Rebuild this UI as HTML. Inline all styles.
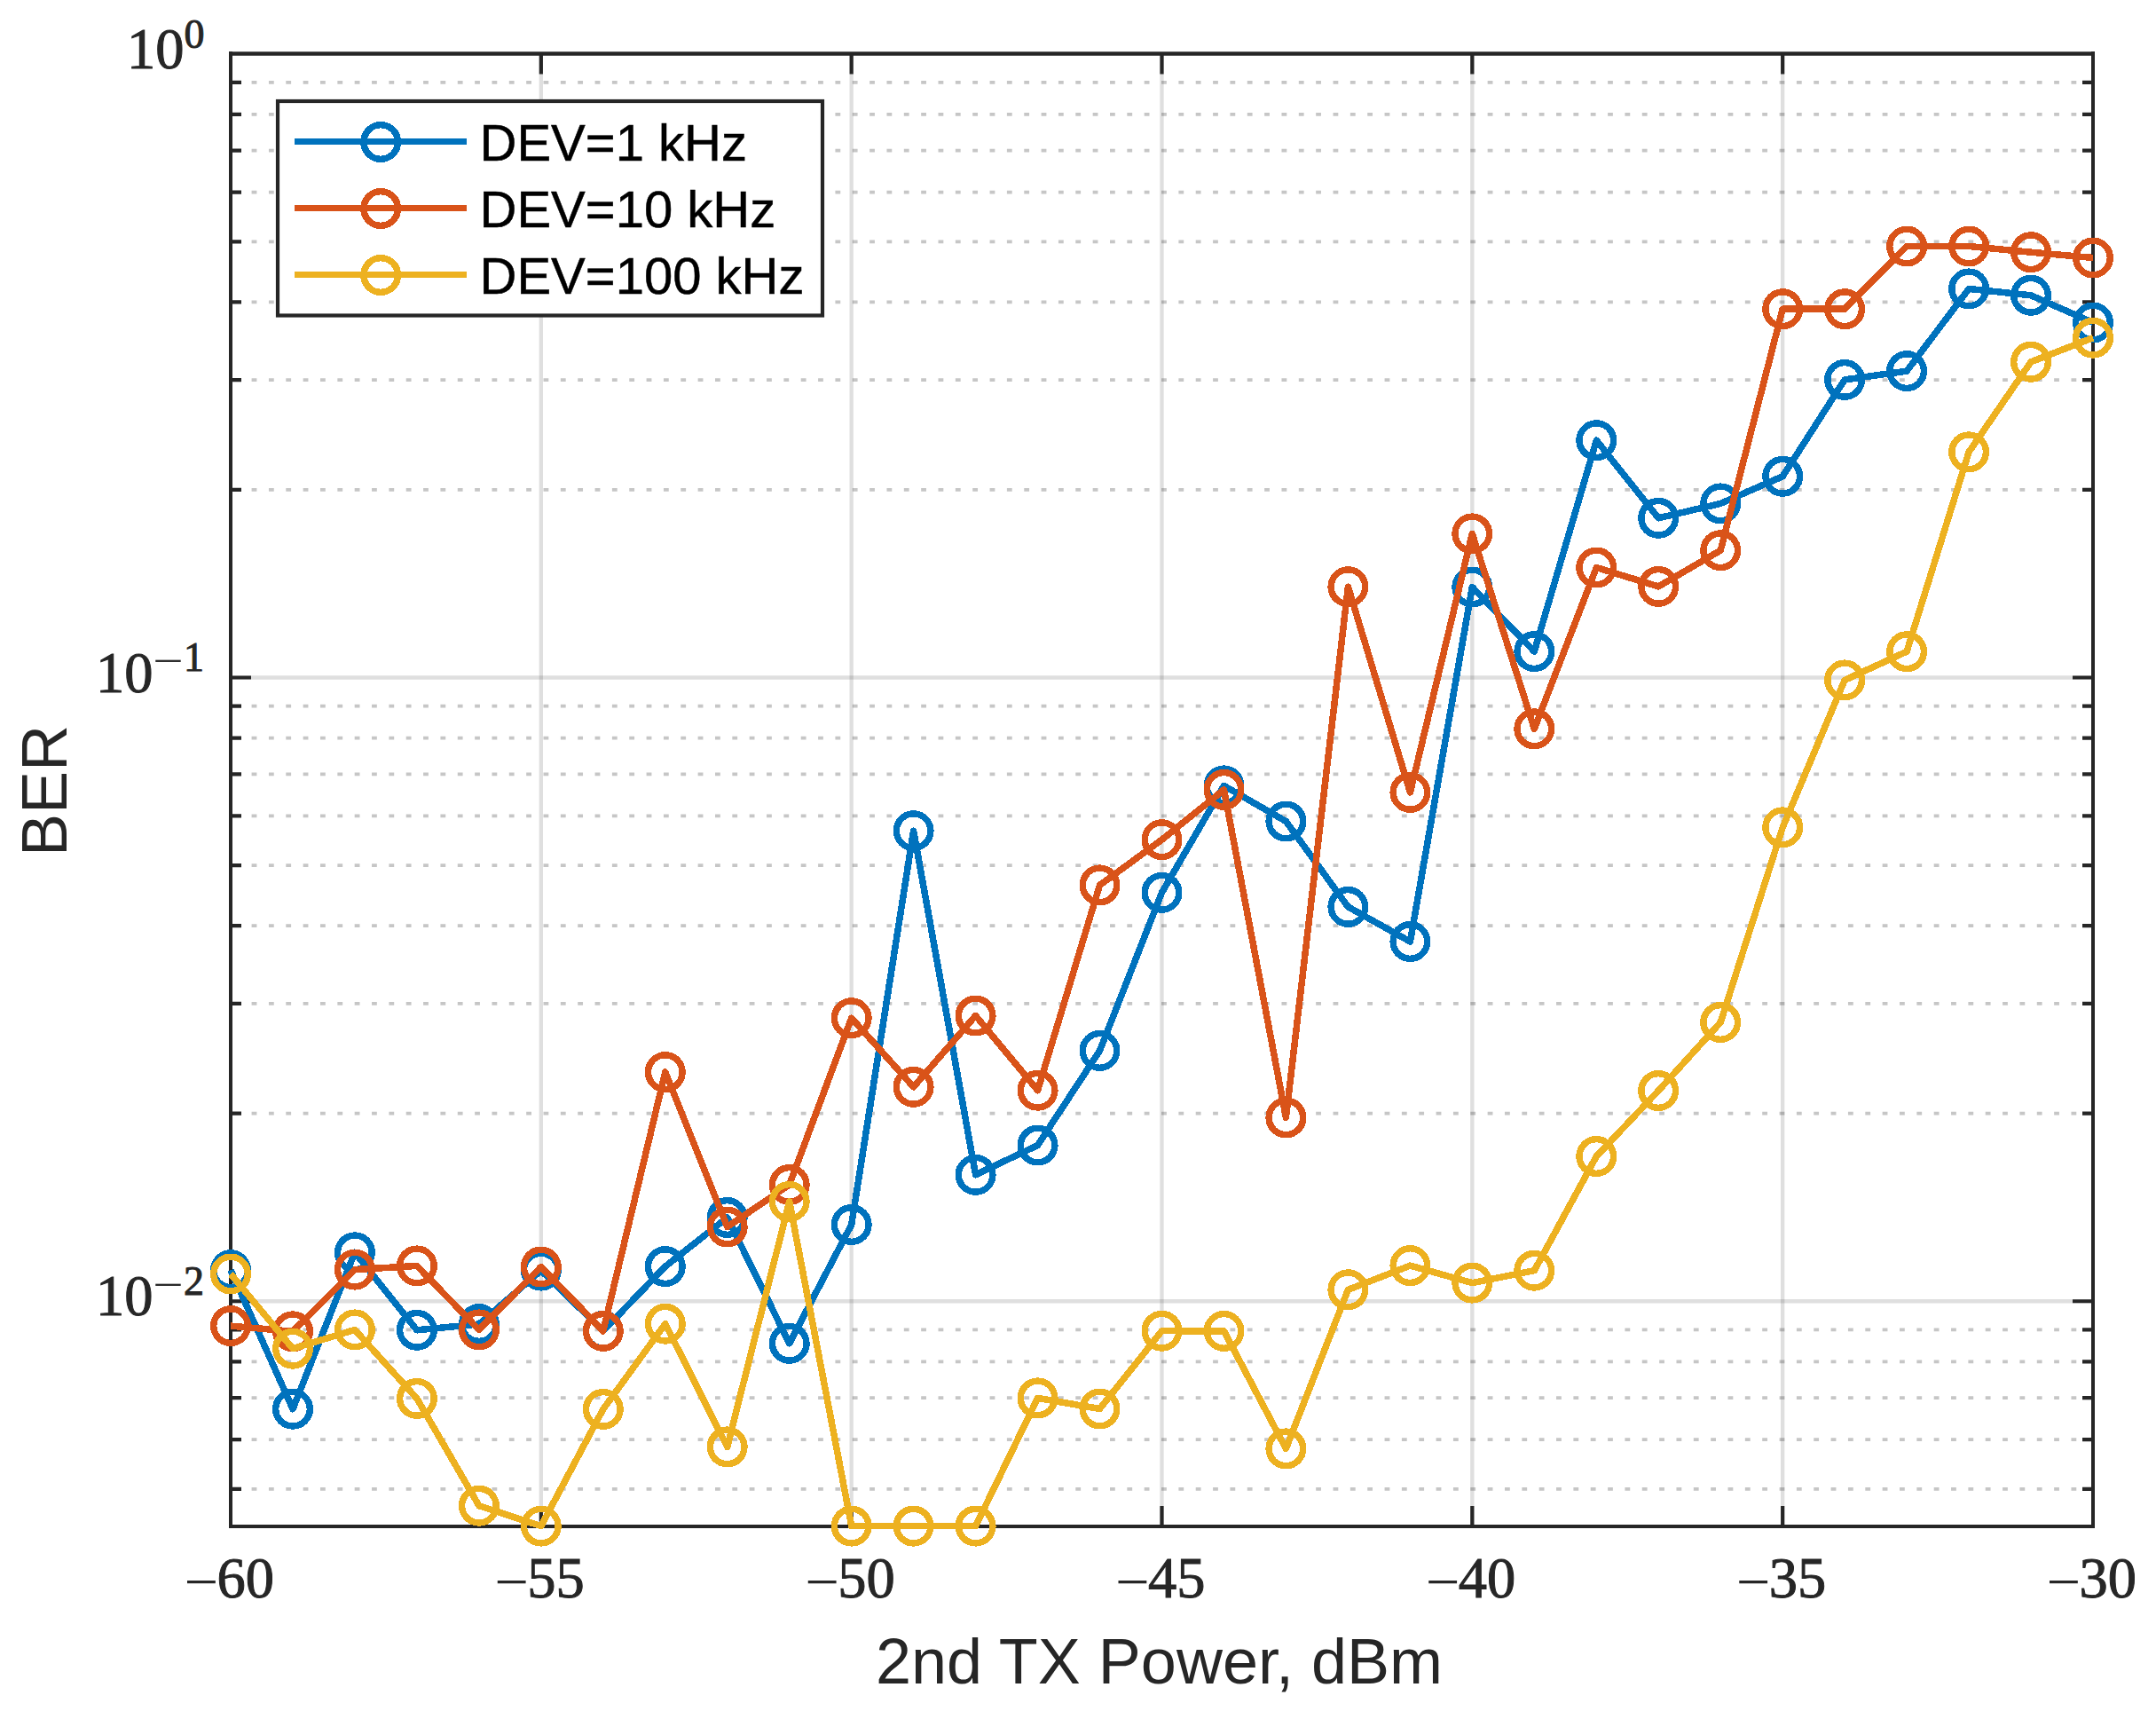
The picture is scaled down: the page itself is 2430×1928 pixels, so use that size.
<!DOCTYPE html>
<html lang="en"><head><meta charset="utf-8"><title>BER vs 2nd TX Power</title>
<style>
html,body{margin:0;padding:0;background:#fff;}
body{width:2430px;height:1928px;}
svg{display:block;}
.ser{font-family:"Liberation Serif",serif;fill:#262626;}
.dg{stroke:#262626;stroke-width:1px;}
.san{font-family:"Liberation Sans",sans-serif;fill:#262626;}
.leg{font-family:"Liberation Sans",sans-serif;fill:#000;stroke:#000;stroke-width:0.5px;}
</style></head><body>
<svg width="2430" height="1928" viewBox="0 0 2430 1928">
<rect x="0" y="0" width="2430" height="1928" fill="#fff"/>
<g fill="none">
<g stroke="rgba(26,26,26,0.25)" stroke-width="3.8" stroke-dasharray="5.800 13.548">
<line x1="283.60" y1="92.91" x2="2347.00" y2="92.91"/>
<line x1="283.60" y1="128.85" x2="2347.00" y2="128.85"/>
<line x1="283.60" y1="169.61" x2="2347.00" y2="169.61"/>
<line x1="283.60" y1="216.65" x2="2347.00" y2="216.65"/>
<line x1="283.60" y1="272.30" x2="2347.00" y2="272.30"/>
<line x1="283.60" y1="340.40" x2="2347.00" y2="340.40"/>
<line x1="283.60" y1="428.20" x2="2347.00" y2="428.20"/>
<line x1="283.60" y1="551.95" x2="2347.00" y2="551.95"/>
<line x1="283.60" y1="795.66" x2="2347.00" y2="795.66"/>
<line x1="283.60" y1="831.60" x2="2347.00" y2="831.60"/>
<line x1="283.60" y1="872.36" x2="2347.00" y2="872.36"/>
<line x1="283.60" y1="919.40" x2="2347.00" y2="919.40"/>
<line x1="283.60" y1="975.05" x2="2347.00" y2="975.05"/>
<line x1="283.60" y1="1043.15" x2="2347.00" y2="1043.15"/>
<line x1="283.60" y1="1130.95" x2="2347.00" y2="1130.95"/>
<line x1="283.60" y1="1254.70" x2="2347.00" y2="1254.70"/>
<line x1="283.60" y1="1498.41" x2="2347.00" y2="1498.41"/>
<line x1="283.60" y1="1534.35" x2="2347.00" y2="1534.35"/>
<line x1="283.60" y1="1575.11" x2="2347.00" y2="1575.11"/>
<line x1="283.60" y1="1622.15" x2="2347.00" y2="1622.15"/>
<line x1="283.60" y1="1677.80" x2="2347.00" y2="1677.80"/>
</g>
<g stroke="rgba(38,38,38,0.15)">
<line stroke-width="4.3" x1="609.83" y1="60.40" x2="609.83" y2="1720.00"/>
<line stroke-width="4.3" x1="959.67" y1="60.40" x2="959.67" y2="1720.00"/>
<line stroke-width="4.3" x1="1309.50" y1="60.40" x2="1309.50" y2="1720.00"/>
<line stroke-width="4.3" x1="1659.33" y1="60.40" x2="1659.33" y2="1720.00"/>
<line stroke-width="4.3" x1="2009.17" y1="60.40" x2="2009.17" y2="1720.00"/>
<line stroke-width="4.5" x1="260.00" y1="763.50" x2="2359.00" y2="763.50"/>
<line stroke-width="4.5" x1="260.00" y1="1466.25" x2="2359.00" y2="1466.25"/>
</g></g>
<g fill="none" stroke="#262626" stroke-width="4.2">
<path stroke-width="4.0" d="M260.00 58.10V1722.00M2359.00 58.10V1722.00"/>
<path stroke-width="4.5" d="M258.00 60.40H2361.00"/>
<path stroke-width="4.0" d="M258.00 1720.00H2361.00"/>
<path d="M609.83 1720.00V1697.00M609.83 60.40V83.40M959.67 1720.00V1697.00M959.67 60.40V83.40M1309.50 1720.00V1697.00M1309.50 60.40V83.40M1659.33 1720.00V1697.00M1659.33 60.40V83.40M2009.17 1720.00V1697.00M2009.17 60.40V83.40M260.00 763.50H283.00M2359.00 763.50H2336.00M260.00 1466.25H283.00M2359.00 1466.25H2336.00M260.00 92.91H272.00M2359.00 92.91H2347.00M260.00 128.85H272.00M2359.00 128.85H2347.00M260.00 169.61H272.00M2359.00 169.61H2347.00M260.00 216.65H272.00M2359.00 216.65H2347.00M260.00 272.30H272.00M2359.00 272.30H2347.00M260.00 340.40H272.00M2359.00 340.40H2347.00M260.00 428.20H272.00M2359.00 428.20H2347.00M260.00 551.95H272.00M2359.00 551.95H2347.00M260.00 795.66H272.00M2359.00 795.66H2347.00M260.00 831.60H272.00M2359.00 831.60H2347.00M260.00 872.36H272.00M2359.00 872.36H2347.00M260.00 919.40H272.00M2359.00 919.40H2347.00M260.00 975.05H272.00M2359.00 975.05H2347.00M260.00 1043.15H272.00M2359.00 1043.15H2347.00M260.00 1130.95H272.00M2359.00 1130.95H2347.00M260.00 1254.70H272.00M2359.00 1254.70H2347.00M260.00 1498.41H272.00M2359.00 1498.41H2347.00M260.00 1534.35H272.00M2359.00 1534.35H2347.00M260.00 1575.11H272.00M2359.00 1575.11H2347.00M260.00 1622.15H272.00M2359.00 1622.15H2347.00M260.00 1677.80H272.00M2359.00 1677.80H2347.00"/>
</g>
<g fill="none" stroke="#0072BD" shape-rendering="crispEdges">
<polyline stroke-width="7.5" stroke-linejoin="round" points="260.0,1431.2 330.0,1587.7 399.9,1411.3 469.9,1498.8 539.9,1492.0 609.8,1431.6 679.8,1499.8 749.8,1427.1 819.7,1372.0 889.7,1513.8 959.7,1380.0 1029.6,936.2 1099.6,1323.8 1169.6,1290.5 1239.5,1183.9 1309.5,1005.8 1379.5,885.4 1449.4,925.5 1519.4,1021.9 1589.4,1061.0 1659.3,661.5 1729.3,734.1 1799.3,496.2 1869.2,583.8 1939.2,567.4 2009.2,536.8 2079.1,427.9 2149.1,418.1 2219.1,325.4 2289.0,332.8 2359.0,363.5"/>
<g stroke-width="7.4">
<circle cx="260.0" cy="1431.2" r="19.3"/>
<circle cx="330.0" cy="1587.7" r="19.3"/>
<circle cx="399.9" cy="1411.3" r="19.3"/>
<circle cx="469.9" cy="1498.8" r="19.3"/>
<circle cx="539.9" cy="1492.0" r="19.3"/>
<circle cx="609.8" cy="1431.6" r="19.3"/>
<circle cx="679.8" cy="1499.8" r="19.3"/>
<circle cx="749.8" cy="1427.1" r="19.3"/>
<circle cx="819.7" cy="1372.0" r="19.3"/>
<circle cx="889.7" cy="1513.8" r="19.3"/>
<circle cx="959.7" cy="1380.0" r="19.3"/>
<circle cx="1029.6" cy="936.2" r="19.3"/>
<circle cx="1099.6" cy="1323.8" r="19.3"/>
<circle cx="1169.6" cy="1290.5" r="19.3"/>
<circle cx="1239.5" cy="1183.9" r="19.3"/>
<circle cx="1309.5" cy="1005.8" r="19.3"/>
<circle cx="1379.5" cy="885.4" r="19.3"/>
<circle cx="1449.4" cy="925.5" r="19.3"/>
<circle cx="1519.4" cy="1021.9" r="19.3"/>
<circle cx="1589.4" cy="1061.0" r="19.3"/>
<circle cx="1659.3" cy="661.5" r="19.3"/>
<circle cx="1729.3" cy="734.1" r="19.3"/>
<circle cx="1799.3" cy="496.2" r="19.3"/>
<circle cx="1869.2" cy="583.8" r="19.3"/>
<circle cx="1939.2" cy="567.4" r="19.3"/>
<circle cx="2009.2" cy="536.8" r="19.3"/>
<circle cx="2079.1" cy="427.9" r="19.3"/>
<circle cx="2149.1" cy="418.1" r="19.3"/>
<circle cx="2219.1" cy="325.4" r="19.3"/>
<circle cx="2289.0" cy="332.8" r="19.3"/>
<circle cx="2359.0" cy="363.5" r="19.3"/>
</g></g>
<g fill="none" stroke="#D95319" shape-rendering="crispEdges">
<polyline stroke-width="7.5" stroke-linejoin="round" points="260.0,1494.1 330.0,1500.3 399.9,1430.6 469.9,1426.4 539.9,1498.4 609.8,1427.5 679.8,1499.9 749.8,1208.1 819.7,1382.5 889.7,1335.0 959.7,1147.2 1029.6,1224.8 1099.6,1144.5 1169.6,1228.7 1239.5,997.4 1309.5,946.2 1379.5,889.9 1449.4,1259.4 1519.4,661.2 1589.4,892.9 1659.3,601.4 1729.3,821.3 1799.3,639.5 1869.2,660.9 1939.2,620.2 2009.2,348.2 2079.1,348.2 2149.1,277.5 2219.1,277.5 2289.0,284.2 2359.0,290.5"/>
<g stroke-width="7.4">
<circle cx="260.0" cy="1494.1" r="19.3"/>
<circle cx="330.0" cy="1500.3" r="19.3"/>
<circle cx="399.9" cy="1430.6" r="19.3"/>
<circle cx="469.9" cy="1426.4" r="19.3"/>
<circle cx="539.9" cy="1498.4" r="19.3"/>
<circle cx="609.8" cy="1427.5" r="19.3"/>
<circle cx="679.8" cy="1499.9" r="19.3"/>
<circle cx="749.8" cy="1208.1" r="19.3"/>
<circle cx="819.7" cy="1382.5" r="19.3"/>
<circle cx="889.7" cy="1335.0" r="19.3"/>
<circle cx="959.7" cy="1147.2" r="19.3"/>
<circle cx="1029.6" cy="1224.8" r="19.3"/>
<circle cx="1099.6" cy="1144.5" r="19.3"/>
<circle cx="1169.6" cy="1228.7" r="19.3"/>
<circle cx="1239.5" cy="997.4" r="19.3"/>
<circle cx="1309.5" cy="946.2" r="19.3"/>
<circle cx="1379.5" cy="889.9" r="19.3"/>
<circle cx="1449.4" cy="1259.4" r="19.3"/>
<circle cx="1519.4" cy="661.2" r="19.3"/>
<circle cx="1589.4" cy="892.9" r="19.3"/>
<circle cx="1659.3" cy="601.4" r="19.3"/>
<circle cx="1729.3" cy="821.3" r="19.3"/>
<circle cx="1799.3" cy="639.5" r="19.3"/>
<circle cx="1869.2" cy="660.9" r="19.3"/>
<circle cx="1939.2" cy="620.2" r="19.3"/>
<circle cx="2009.2" cy="348.2" r="19.3"/>
<circle cx="2079.1" cy="348.2" r="19.3"/>
<circle cx="2149.1" cy="277.5" r="19.3"/>
<circle cx="2219.1" cy="277.5" r="19.3"/>
<circle cx="2289.0" cy="284.2" r="19.3"/>
<circle cx="2359.0" cy="290.5" r="19.3"/>
</g></g>
<g fill="none" stroke="#EDB120" shape-rendering="crispEdges">
<polyline stroke-width="7.5" stroke-linejoin="round" points="260.0,1435.5 330.0,1519.7 399.9,1498.4 469.9,1575.9 539.9,1696.7 609.8,1719.6 679.8,1587.9 749.8,1491.7 819.7,1630.4 889.7,1354.0 959.7,1719.6 1029.6,1719.6 1099.6,1719.6 1169.6,1575.4 1239.5,1587.5 1309.5,1499.7 1379.5,1499.9 1449.4,1632.4 1519.4,1453.3 1589.4,1426.1 1659.3,1445.6 1729.3,1431.7 1799.3,1303.0 1869.2,1229.0 1939.2,1152.0 2009.2,932.3 2079.1,766.4 2149.1,734.2 2219.1,509.3 2289.0,407.8 2359.0,380.7"/>
<g stroke-width="7.4">
<circle cx="260.0" cy="1435.5" r="19.3"/>
<circle cx="330.0" cy="1519.7" r="19.3"/>
<circle cx="399.9" cy="1498.4" r="19.3"/>
<circle cx="469.9" cy="1575.9" r="19.3"/>
<circle cx="539.9" cy="1696.7" r="19.3"/>
<circle cx="609.8" cy="1719.6" r="19.3"/>
<circle cx="679.8" cy="1587.9" r="19.3"/>
<circle cx="749.8" cy="1491.7" r="19.3"/>
<circle cx="819.7" cy="1630.4" r="19.3"/>
<circle cx="889.7" cy="1354.0" r="19.3"/>
<circle cx="959.7" cy="1719.6" r="19.3"/>
<circle cx="1029.6" cy="1719.6" r="19.3"/>
<circle cx="1099.6" cy="1719.6" r="19.3"/>
<circle cx="1169.6" cy="1575.4" r="19.3"/>
<circle cx="1239.5" cy="1587.5" r="19.3"/>
<circle cx="1309.5" cy="1499.7" r="19.3"/>
<circle cx="1379.5" cy="1499.9" r="19.3"/>
<circle cx="1449.4" cy="1632.4" r="19.3"/>
<circle cx="1519.4" cy="1453.3" r="19.3"/>
<circle cx="1589.4" cy="1426.1" r="19.3"/>
<circle cx="1659.3" cy="1445.6" r="19.3"/>
<circle cx="1729.3" cy="1431.7" r="19.3"/>
<circle cx="1799.3" cy="1303.0" r="19.3"/>
<circle cx="1869.2" cy="1229.0" r="19.3"/>
<circle cx="1939.2" cy="1152.0" r="19.3"/>
<circle cx="2009.2" cy="932.3" r="19.3"/>
<circle cx="2079.1" cy="766.4" r="19.3"/>
<circle cx="2149.1" cy="734.2" r="19.3"/>
<circle cx="2219.1" cy="509.3" r="19.3"/>
<circle cx="2289.0" cy="407.8" r="19.3"/>
<circle cx="2359.0" cy="380.7" r="19.3"/>
</g></g>
<rect x="313.0" y="114.0" width="614.0" height="241.5" fill="#fff" stroke="#262626" stroke-width="4.2"/>
<g fill="none" stroke="#0072BD" shape-rendering="crispEdges">
<line x1="332" y1="159.6" x2="526" y2="159.6" stroke-width="7.0"/>
<circle cx="429.2" cy="160.0" r="19.3" stroke-width="7.4"/>
</g>
<text class="leg" x="540.5" y="181.0" font-size="58">DEV=1 kHz</text>
<g fill="none" stroke="#D95319" shape-rendering="crispEdges">
<line x1="332" y1="234.6" x2="526" y2="234.6" stroke-width="7.0"/>
<circle cx="429.2" cy="235.0" r="19.3" stroke-width="7.4"/>
</g>
<text class="leg" x="540.5" y="256.0" font-size="58">DEV=10 kHz</text>
<g fill="none" stroke="#EDB120" shape-rendering="crispEdges">
<line x1="332" y1="309.6" x2="526" y2="309.6" stroke-width="7.0"/>
<circle cx="429.2" cy="310.0" r="19.3" stroke-width="7.4"/>
</g>
<text class="leg" x="540.5" y="331.0" font-size="58">DEV=100 kHz</text>
<text class="ser" font-size="64.5" y="1800"><tspan x="207.7" dy="4" textLength="38.6" lengthAdjust="spacingAndGlyphs">−</tspan><tspan class="dg" x="244.5" dy="-4">60</tspan></text>
<text class="ser" font-size="64.5" y="1800"><tspan x="557.5" dy="4" textLength="38.6" lengthAdjust="spacingAndGlyphs">−</tspan><tspan class="dg" x="594.3" dy="-4">55</tspan></text>
<text class="ser" font-size="64.5" y="1800"><tspan x="907.4" dy="4" textLength="38.6" lengthAdjust="spacingAndGlyphs">−</tspan><tspan class="dg" x="944.2" dy="-4">50</tspan></text>
<text class="ser" font-size="64.5" y="1800"><tspan x="1257.2" dy="4" textLength="38.6" lengthAdjust="spacingAndGlyphs">−</tspan><tspan class="dg" x="1294.0" dy="-4">45</tspan></text>
<text class="ser" font-size="64.5" y="1800"><tspan x="1607.0" dy="4" textLength="38.6" lengthAdjust="spacingAndGlyphs">−</tspan><tspan class="dg" x="1643.8" dy="-4">40</tspan></text>
<text class="ser" font-size="64.5" y="1800"><tspan x="1956.9" dy="4" textLength="38.6" lengthAdjust="spacingAndGlyphs">−</tspan><tspan class="dg" x="1993.7" dy="-4">35</tspan></text>
<text class="ser" font-size="64.5" y="1800"><tspan x="2306.7" dy="4" textLength="38.6" lengthAdjust="spacingAndGlyphs">−</tspan><tspan class="dg" x="2343.5" dy="-4">30</tspan></text>
<text class="ser dg" y="76.8"><tspan font-size="64.5" x="143.0">10</tspan><tspan font-size="46.0" x="207.5" dy="-23.2">0</tspan></text>
<text class="ser" y="779.5"><tspan class="dg" font-size="64.5" x="108.0">10</tspan><tspan font-size="46.0" x="172.6" dy="-19.2" textLength="34.5" lengthAdjust="spacingAndGlyphs">−</tspan><tspan class="dg" font-size="46.0" x="207.0" dy="-4">1</tspan></text>
<text class="ser" y="1482.2"><tspan class="dg" font-size="64.5" x="108.0">10</tspan><tspan font-size="46.0" x="172.6" dy="-19.2" textLength="34.5" lengthAdjust="spacingAndGlyphs">−</tspan><tspan class="dg" font-size="46.0" x="207.0" dy="-4">2</tspan></text>
<text class="san" font-size="72" text-anchor="middle" x="1306.5" y="1896.6">2nd TX Power, dBm</text>
<text class="san" font-size="72" text-anchor="middle" transform="translate(74.9 891.0) rotate(-90)">BER</text>
</svg></body></html>
